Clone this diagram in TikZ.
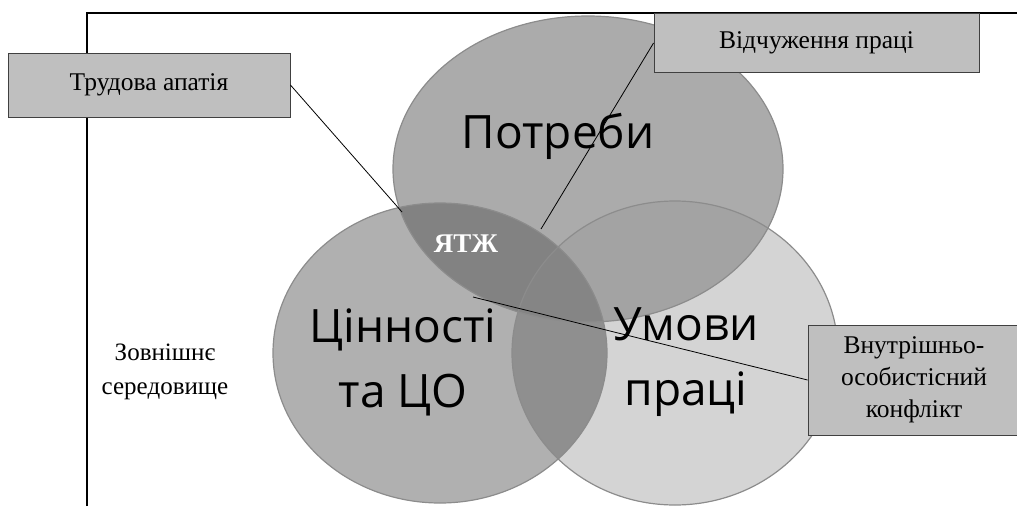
\documentclass[tikz,border=0pt]{standalone}
\usepackage{fontspec}
\setmainfont{Liberation Serif}
\newfontfamily\bigsans{Open Sans}
\begin{document}
\begin{tikzpicture}[x=1pt,y=-1pt,
  lbl/.style={draw=black!75,fill=black!25,line width=0.9pt,inner sep=0pt,align=center,font=\fontsize{25.5}{32}\selectfont},
  conn/.style={draw=black,line width=0.8pt},
  big/.style={font=\bigsans\fontsize{46}{65}\selectfont,align=center,inner sep=0pt},
  rim/.style={draw=black!45,line width=1.2pt}]
\useasboundingbox (0,0) rectangle (1017,506);
\def\Tc{(588,169) ellipse [x radius=195, y radius=153]}
\def\Lc{(440,353) ellipse [x radius=167, y radius=150]}
\def\Rc{(675,353) ellipse [x radius=163, y radius=152]}
% frame
\draw[line width=1.6pt] (87,506) -- (87,13) -- (1017,13);
% fills
\fill[black!33] \Tc;
\fill[black!31] \Lc;
\fill[black!17] \Rc;
\begin{scope}\clip \Tc; \fill[black!49] \Lc; \end{scope}
\begin{scope}\clip \Tc; \fill[black!36] \Rc; \end{scope}
\begin{scope}\clip \Lc; \fill[black!44] \Rc; \end{scope}
\begin{scope}\clip \Tc; \clip \Lc; \fill[black!48] \Rc; \end{scope}
\draw[rim] \Tc; \draw[rim] \Lc; \draw[rim] \Rc;
% texts
\node[big] (tpot) at (558,136) {Потреби};
\node[big] (tcin) at (403,362) {Цінності\\та ЦО};
\node[big] (tumo) at (686,362) {Умови\\праці};
\node[font=\fontsize{27}{30}\selectfont\bfseries,text=white] (yatzh) at (466,244) {ЯТЖ};
\node[align=center,font=\fontsize{25}{34}\selectfont] (env) at (165,372) {Зовнішнє\\середовище};
% boxes
\node[lbl,minimum width=282pt,minimum height=64pt] (apat) at (149,85) {Трудова апатія};
\node[lbl,minimum width=325pt,minimum height=59pt] (vidch) at (816.5,42.5) {Відчуження праці};
\node[lbl,minimum width=212pt,minimum height=110pt] (konf) at (914,380) {Внутрішньо-\\особистісний\\конфлікт};
% connectors
\coordinate (pA) at (402,212);
\coordinate (pB) at (541,229);
\coordinate (pC) at (473,297);
\draw[conn] (apat.east) -- (pA);
\draw[conn] (vidch.west |- 0,43) -- (pB);
\draw[conn] (konf.west) -- (pC);
\end{tikzpicture}
\end{document}
